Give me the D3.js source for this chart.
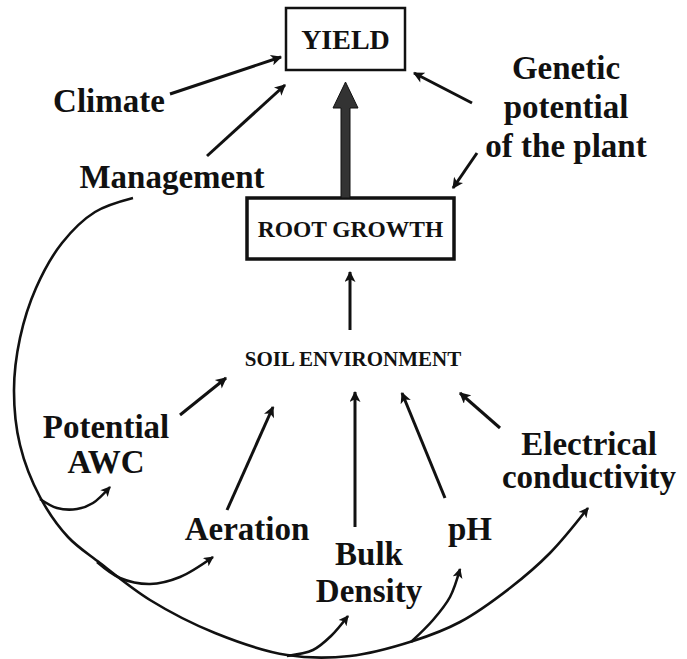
<!DOCTYPE html>
<html>
<head>
<meta charset="utf-8">
<script src="https://cdn.jsdelivr.net/npm/d3@7"></script>
<style>
  body { margin: 0; background: #fff; }
  text { font-family: 'Liberation Serif', 'Times New Roman', serif; font-weight: bold; fill: #111; }
</style>
</head>
<body>
<svg id="chart"></svg>
<script>
const width = 687, height = 659;

// node labels
const boxLabels = ["YIELD", "ROOT GROWTH"];
const centreLabel = "SOIL ENVIRONMENT";
const outerLabels = [["Climate"], ["Management"], ["Genetic", "potential", "of the plant"]];
const soilLabels = [["Potential", "AWC"], ["Aeration"], ["Bulk", "Density"], ["pH"], ["Electrical", "conductivity"]];

// layout (pixel positions of the drawing)
const boxPos = [
  {x: 286, y: 8, w: 119, h: 62, size: 28, sw: 2.5},
  {x: 247, y: 198, w: 207, h: 61, size: 23.5, sw: 3.5}
];
const outerPos = [
  {x: 109, y: 112, gap: 0}, {x: 172, y: 188, gap: 0}, {x: 566, y: 79, gap: 39}
];
const soilPos = [
  {x: 106, y: 438, gap: 35}, {x: 247, y: 540, gap: 0}, {x: 369, y: 565, gap: 37},
  {x: 470, y: 540, gap: 0}, {x: 589, y: 455, gap: 33}
];

const arrows = [
  [[170, 94], [281, 57]],
  [[207, 156], [285, 85]],
  [[472, 103], [414, 73]],
  [[477, 153], [453, 188]],
  [[350, 330], [350, 272]],
  [[180, 415], [226, 378]],
  [[227, 510], [273, 407]],
  [[355, 527], [355, 392]],
  [[445, 498], [402, 393]],
  [[500, 428], [460, 393]]
];

const mainCurve = [[133, 198], [95, 212], [62, 243], [36, 288], [20, 338], [14, 390], [20, 445], [40, 497],
  [68, 537], [100, 563], [150, 600], [215, 633], [287, 655], [350, 656], [413, 641], [460, 622], [510, 588], [550, 553], [588, 508]];
const branches = [
  [[40, 499], [57, 508], [77, 509], [93, 503], [110, 487]],
  [[97, 562], [120, 578], [150, 584], [180, 577], [213, 557]],
  [[287, 656], [313, 650], [331, 636], [348, 616]],
  [[411, 642], [433, 620], [450, 597], [460, 569]]
];

const svg = d3.select("#chart").attr("width", width).attr("height", height);

const defs = svg.append("defs");
const marker = (id, w, h) => defs.append("marker")
  .attr("id", id)
  .attr("viewBox", "0 0 10 10")
  .attr("refX", 9).attr("refY", 5)
  .attr("markerUnits", "userSpaceOnUse")
  .attr("markerWidth", w).attr("markerHeight", h)
  .attr("orient", "auto")
  .append("path").attr("d", "M0,0 L10,5 L0,10 L2.5,5 Z").attr("fill", "#111");
marker("head", 13, 11);
marker("headSmall", 12, 10);

// boxes
const boxG = svg.selectAll("g.box").data(boxLabels).join("g").attr("class", "box");
boxG.append("rect")
  .attr("x", (d, i) => boxPos[i].x).attr("y", (d, i) => boxPos[i].y)
  .attr("width", (d, i) => boxPos[i].w).attr("height", (d, i) => boxPos[i].h)
  .attr("fill", "none").attr("stroke", "#111")
  .attr("stroke-width", (d, i) => boxPos[i].sw);
boxG.append("text")
  .attr("x", (d, i) => boxPos[i].x + boxPos[i].w / 2)
  .attr("y", (d, i) => boxPos[i].y + boxPos[i].h / 2)
  .attr("dy", "0.35em")
  .attr("text-anchor", "middle")
  .attr("font-size", (d, i) => boxPos[i].size)
  .text(d => d);

svg.append("text")
  .attr("x", 353).attr("y", 366)
  .attr("text-anchor", "middle")
  .attr("font-size", 21)
  .text(centreLabel);

// multi-line labels
const drawLabels = (labels, pos) => {
  svg.append("g").selectAll("text").data(labels).join("text")
    .attr("text-anchor", "middle")
    .attr("font-size", 33)
    .attr("transform", (d, i) => `translate(${pos[i].x},${pos[i].y})`)
    .each(function (d, i) {
      d3.select(this).selectAll("tspan").data(d).join("tspan")
        .attr("x", 0).attr("y", (t, j) => j * pos[i].gap)
        .text(t => t);
    });
};
drawLabels(outerLabels, outerPos);
drawLabels(soilLabels, soilPos);

// thick arrow from root growth to yield
const thick = d3.path();
thick.moveTo(345.5, 82);
thick.lineTo(358, 108);
thick.lineTo(350, 108);
thick.lineTo(350, 198);
thick.lineTo(341, 198);
thick.lineTo(341, 108);
thick.lineTo(333, 108);
thick.closePath();
svg.append("path").attr("d", thick.toString()).attr("fill", "#333").attr("stroke", "#111").attr("stroke-width", 1);

// straight arrows
svg.append("g").selectAll("line").data(arrows).join("line")
  .attr("x1", d => d[0][0]).attr("y1", d => d[0][1])
  .attr("x2", d => d[1][0]).attr("y2", d => d[1][1])
  .attr("stroke", "#111").attr("stroke-width", 3)
  .attr("marker-end", "url(#head)");

// curves
const curve = d3.line().curve(d3.curveCatmullRom.alpha(0.5));
svg.append("path").attr("d", curve(mainCurve))
  .attr("fill", "none").attr("stroke", "#111").attr("stroke-width", 2.6)
  .attr("marker-end", "url(#headSmall)");
svg.append("g").selectAll("path").data(branches).join("path")
  .attr("d", d => curve(d))
  .attr("fill", "none").attr("stroke", "#111").attr("stroke-width", 2.6)
  .attr("marker-end", "url(#headSmall)");
</script>
</body>
</html>
